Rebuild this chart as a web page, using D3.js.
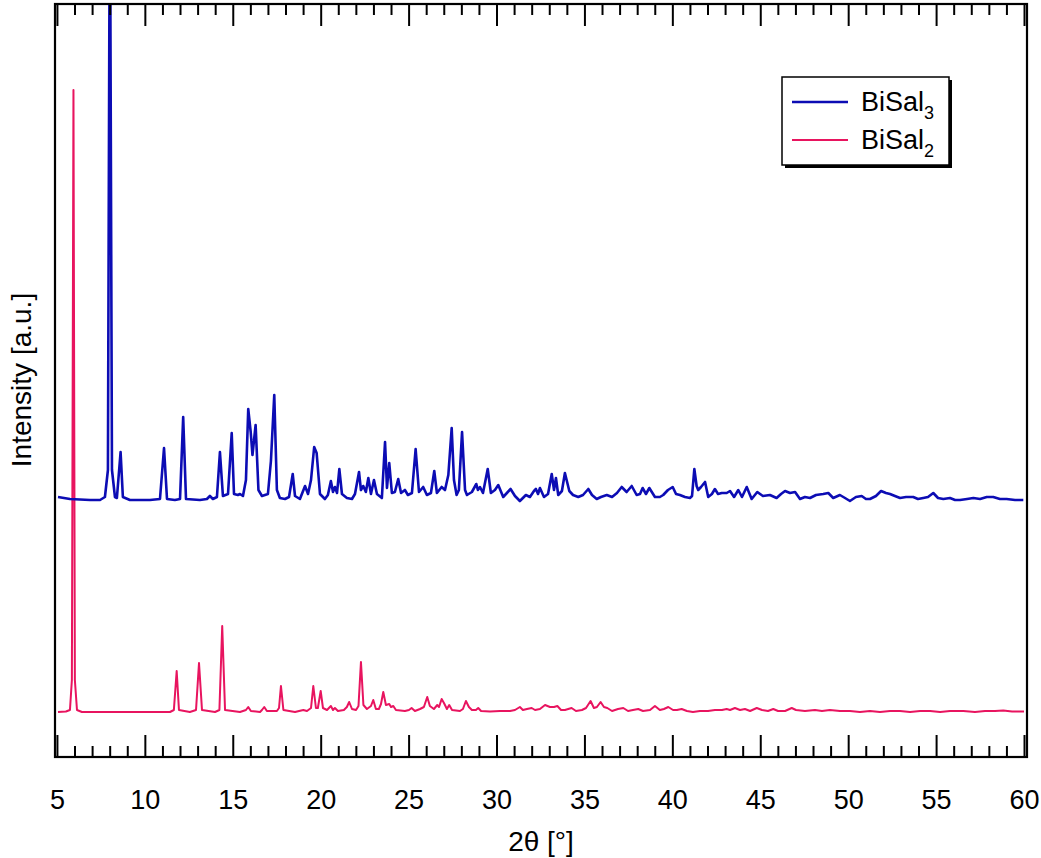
<!DOCTYPE html>
<html>
<head>
<meta charset="utf-8">
<script src="https://cdn.jsdelivr.net/npm/d3@7"></script>
<style>
  html, body { margin: 0; padding: 0; background: #fff; }
  svg { display: block; font-family: "Liberation Sans", Arial, sans-serif; }
</style>
</head>
<body>
<svg id="chart" width="1041" height="858"></svg>
<script>
// ---- data (2θ in degrees, intensity in arbitrary units, BiSal3 offset upward) ----
const seriesNames = ["BiSal3", "BiSal2"];

const bisal3X = [5.06,5.74,6.88,7.45,7.73,7.90,8.01,8.13,8.30,8.41,8.62,8.75,9.15,10.29,10.86,11.09,11.26,11.71,12.00,12.18,12.34,13.13,13.53,13.70,13.87,14.10,14.27,14.44,14.73,14.94,15.07,15.29,15.41,15.58,15.75,15.88,16.02,16.12,16.30,16.46,16.66,17.00,17.17,17.36,17.51,17.68,17.97,18.20,18.41,18.54,18.82,19.11,19.28,19.45,19.63,19.77,19.96,20.24,20.41,20.58,20.70,20.81,20.93,21.06,21.21,21.49,21.78,21.95,22.18,22.29,22.42,22.57,22.71,22.86,23.03,23.20,23.48,23.66,23.77,23.90,24.05,24.22,24.41,24.57,24.79,24.96,25.19,25.40,25.59,25.83,26.04,26.27,26.46,26.61,26.88,27.07,27.26,27.45,27.58,27.73,27.86,28.04,28.21,28.32,28.60,28.85,28.94,29.06,29.23,29.50,29.68,29.91,30.10,30.38,30.59,30.80,31.05,31.33,31.50,31.67,31.90,32.13,32.24,32.36,32.47,32.70,32.93,33.14,33.27,33.38,33.51,33.72,33.89,34.14,34.35,34.65,34.92,35.22,35.43,35.70,35.94,36.27,36.57,36.85,37.12,37.40,37.69,37.97,38.16,38.31,38.50,38.69,39.01,39.29,39.48,39.75,40.02,40.21,40.43,40.72,41.00,41.12,41.25,41.38,41.47,41.63,41.86,42.04,42.25,42.42,42.60,42.81,43.09,43.28,43.51,43.75,43.96,44.23,44.51,44.83,45.15,45.55,45.93,46.18,46.41,46.69,46.98,47.26,47.54,47.83,48.17,48.58,48.87,49.15,49.53,49.82,50.10,50.44,50.77,51.01,51.24,51.58,51.87,52.15,52.38,52.66,52.95,53.29,53.70,53.97,54.27,54.54,54.84,55.11,55.41,55.79,56.08,56.36,56.76,57.12,57.50,57.88,58.25,58.63,59.01,59.49,59.96];
const bisal3Y = [260,258,257,257,260,287,900,287,260,259,305,260,257,257,258,309,258,257,258,340,258,257,258,261,258,260,305,261,263,324,263,262,263,261,277,348,325,302,332,267,261,263,296,362,267,259,258,260,283,261,258,271,263,277,310,304,263,258,262,276,265,270,264,288,263,259,258,263,285,267,271,265,279,263,277,263,259,315,269,294,264,265,278,264,267,262,264,308,265,270,262,264,286,264,270,267,282,329,277,262,267,325,267,262,265,273,267,270,264,288,264,267,272,260,264,268,261,256,259,262,260,266,268,263,269,260,263,283,267,279,262,266,284,266,262,260,262,268,262,258,260,262,260,264,270,265,271,262,263,269,263,269,260,260,262,267,270,263,262,260,259,261,288,271,267,270,275,260,263,268,263,264,264,266,260,267,260,270,258,265,261,262,259,263,266,264,265,258,260,259,262,263,264,259,262,259,256,260,261,258,258,261,266,264,263,261,259,260,260,258,259,260,264,259,258,259,257,257,258,259,258,260,260,258,258,257,257];

const bisal2X = [5.06,5.51,5.74,5.85,5.94,6.02,6.14,6.42,8.58,11.43,11.65,11.81,11.94,12.56,12.91,13.08,13.25,13.99,14.24,14.40,14.56,15.41,15.75,15.88,16.03,16.55,16.66,16.79,16.94,17.51,17.63,17.74,17.88,18.54,19.01,19.22,19.45,19.58,19.73,19.84,20.00,20.13,20.36,20.58,20.70,20.81,20.98,21.32,21.49,21.62,21.78,22.01,22.15,22.29,22.43,22.63,22.86,22.99,23.14,23.31,23.43,23.56,23.71,23.90,24.00,24.13,24.28,24.79,25.02,25.17,25.36,25.65,25.87,26.06,26.21,26.44,26.63,26.73,26.88,27.01,27.18,27.31,27.47,27.92,28.09,28.26,28.43,28.60,28.83,28.96,29.12,29.63,30.20,30.77,31.05,31.33,31.50,31.73,32.00,32.19,32.47,32.76,33.04,33.27,33.46,33.67,33.89,34.27,34.52,34.86,35.09,35.35,35.54,35.71,35.92,36.11,36.30,36.57,36.91,37.21,37.48,37.76,38.06,38.33,38.73,39.01,39.29,39.52,39.77,40.04,40.26,40.53,40.83,41.17,41.57,42.03,42.42,42.82,43.09,43.28,43.56,43.85,44.13,44.42,44.80,45.10,45.44,45.74,46.01,46.41,46.79,47.03,47.54,48.11,48.51,48.96,49.53,50.10,50.67,51.24,51.81,52.38,52.95,53.52,54.09,54.66,55.23,55.79,56.55,57.21,57.78,58.35,58.82,59.32,60.00];
const bisal2Y = [45,45.5,47,77,667,77,47,45,45,45,47,86,47,45,47,94,47,45,47,131,47,45,47,50,46,45,47,50,46,46,49,71,47,45,47,46,49,71,49,49,66,49,47,51,47,49,46,47,50,55,48,47,51,95,52,48,51,57,48,48,53,65,52,53,50,51,47,46,47,49,46,48,50,60,51,48,52,50,58,54,48,52,47,46,48,56,50,47,47,49,46,45.5,46,46,47,50,47,48,49,47,48,52,50,50,51,47,47,49,46,47,49,56,49,50,55,50,49,46,48,49,46,47,48,46,47,51,47,48,50,47,47,48,46,45,46,46,47,47,48,47,49,47,48,46,49,47,46,48,46,46,49,47,46,47,46,47,46,46,45,46,45,46,46,45,46,46,45,46,46,45,46,46,46.5,45.5,45.5];

const xTickMajor = [5,10,15,20,25,30,35,40,45,50,55,60];
const legendLabels = [["BiSal","3"],["BiSal","2"]];
const colors = ["#0c0cb4", "#e8145f"];

// ---- layout ----
const svg = d3.select("#chart");
const L = 55, R = 1027, T = 4, B = 757;

const x = d3.scaleLinear().domain([4.89, 60.17]).range([L, R]);
const y = d3.scaleLinear().domain([0, 753]).range([B, T]);

svg.append("defs").append("clipPath").attr("id", "clip")
  .append("rect").attr("x", L).attr("y", T).attr("width", R - L).attr("height", B - T);

const line = d3.line().x(d => x(d[0])).y(d => y(d[1]));

const plotG = svg.append("g").attr("clip-path", "url(#clip)");
const series = [
  { x: bisal3X, y: bisal3Y, color: colors[0], w: 2.6 },
  { x: bisal2X, y: bisal2Y, color: colors[1], w: 2.0 }
];
[series[1], series[0]].forEach(s => {
  const n = Math.min(s.x.length, s.y.length);
  const pts = d3.range(n).map(i => [s.x[i], s.y[i]]);
  plotG.append("path").datum(pts)
    .attr("d", line)
    .attr("fill", "none")
    .attr("stroke", s.color)
    .attr("stroke-width", s.w)
    .attr("stroke-linejoin", "round");
});

// ---- axes ----
const minorTicks = d3.range(5, 61, 1).filter(v => v % 5 !== 0);

const bottomAxis = svg.append("g").attr("transform", `translate(0,${B})`);
bottomAxis.call(d3.axisBottom(x).tickValues(xTickMajor).tickSize(-22).tickPadding(33).tickFormat(d3.format("d")));
bottomAxis.append("g").call(d3.axisBottom(x).tickValues(minorTicks).tickSize(-11).tickFormat(""));

const topAxis = svg.append("g").attr("transform", `translate(0,${T})`);
topAxis.call(d3.axisTop(x).tickValues(xTickMajor).tickSize(-22).tickFormat(""));
topAxis.append("g").call(d3.axisTop(x).tickValues(minorTicks).tickSize(-11).tickFormat(""));

svg.selectAll(".domain").remove();
svg.selectAll(".tick line").attr("stroke", "#000").attr("stroke-width", 2);
bottomAxis.selectAll(".tick text")
  .attr("font-size", 27)
  .attr("fill", "#000")
  .attr("font-family", "'Liberation Sans', Arial, sans-serif");

// frame
svg.append("rect").attr("x", L).attr("y", T).attr("width", R - L).attr("height", B - T)
  .attr("fill", "none").attr("stroke", "#000").attr("stroke-width", 2.2);

// axis titles
svg.append("text").attr("x", (L + R) / 2).attr("y", 851)
  .attr("text-anchor", "middle").attr("font-size", 28).attr("fill", "#000")
  .text("2θ [°]");
svg.append("text")
  .attr("transform", `translate(31,380) rotate(-90)`)
  .attr("text-anchor", "middle").attr("font-size", 28).attr("fill", "#000")
  .text("Intensity [a.u.]");

// ---- legend ----
const lg = svg.append("g");
lg.append("rect").attr("x", 785).attr("y", 80).attr("width", 167).attr("height", 88).attr("fill", "#000");
lg.append("rect").attr("x", 782).attr("y", 77).attr("width", 167).attr("height", 88)
  .attr("fill", "#fff").attr("stroke", "#000").attr("stroke-width", 1.5);
legendLabels.forEach((lab, i) => {
  const yy = 102 + i * 38;
  lg.append("line").attr("x1", 792).attr("x2", 848).attr("y1", yy).attr("y2", yy)
    .attr("stroke", colors[i]).attr("stroke-width", i === 0 ? 2.6 : 2.0);
  const t = lg.append("text").attr("x", 861).attr("y", yy + 9).attr("font-size", 27).attr("fill", "#000");
  t.append("tspan").text(lab[0]);
  t.append("tspan").attr("font-size", 18).attr("dy", 8).text(lab[1]);
});
</script>
</body>
</html>
